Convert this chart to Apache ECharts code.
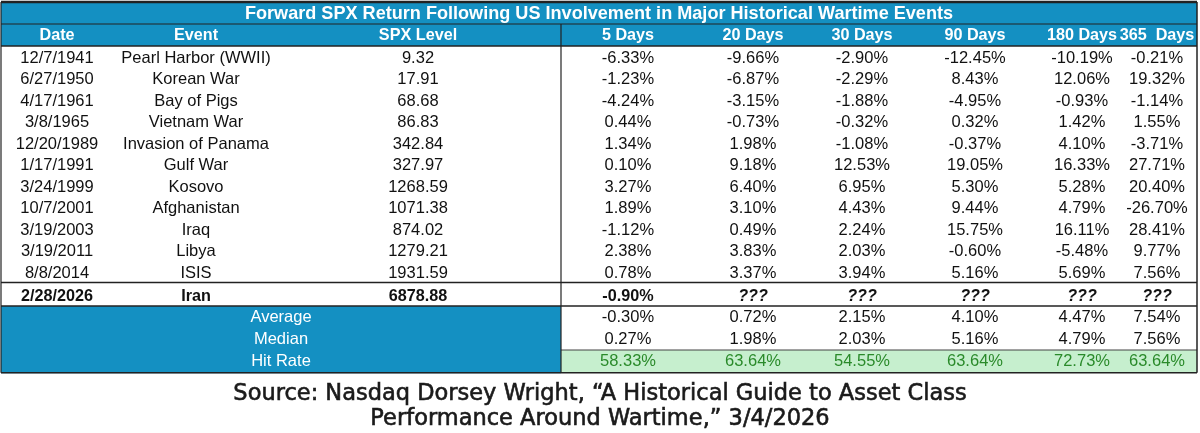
<!DOCTYPE html>
<html><head><meta charset="utf-8">
<script src="https://cdn.jsdelivr.net/npm/echarts@6/dist/echarts.min.js"></script>
<style>html,body{margin:0;padding:0;background:#fff}#c{width:1200px;height:433px}</style>
</head><body><div id="c"></div>
<script>
const titleText = 'Forward SPX Return Following US Involvement in Major Historical Wartime Events';
const headers = ['Date', 'Event', 'SPX Level', '5 Days', '20 Days', '30 Days', '90 Days', '180 Days', '365  Days'];
const dates = ['12/7/1941', '6/27/1950', '4/17/1961', '3/8/1965', '12/20/1989', '1/17/1991', '3/24/1999', '10/7/2001', '3/19/2003', '3/19/2011', '8/8/2014'];
const events = ['Pearl Harbor (WWII)', 'Korean War', 'Bay of Pigs', 'Vietnam War', 'Invasion of Panama', 'Gulf War', 'Kosovo', 'Afghanistan', 'Iraq', 'Libya', 'ISIS'];
const spxLevel = [9.32, 17.91, 68.68, 86.83, 342.84, 327.97, 1268.59, 1071.38, 874.02, 1279.21, 1931.59];
const ret5 = [-6.33, -1.23, -4.24, 0.44, 1.34, 0.10, 3.27, 1.89, -1.12, 2.38, 0.78];
const ret20 = [-9.66, -6.87, -3.15, -0.73, 1.98, 9.18, 6.40, 3.10, 0.49, 3.83, 3.37];
const ret30 = [-2.90, -2.29, -1.88, -0.32, -1.08, 12.53, 6.95, 4.43, 2.24, 2.03, 3.94];
const ret90 = [-12.45, 8.43, -4.95, 0.32, -0.37, 19.05, 5.30, 9.44, 15.75, -0.60, 5.16];
const ret180 = [-10.19, 12.06, -0.93, 1.42, 4.10, 16.33, 5.28, 4.79, 16.11, -5.48, 5.69];
const ret365 = [-0.21, 19.32, -1.14, 1.55, -3.71, 27.71, 20.40, -26.70, 28.41, 9.77, 7.56];
const currentDate = '2/28/2026';
const currentEvent = 'Iran';
const currentLevel = 6878.88;
const currentRet = [-0.90, '???', '???', '???', '???', '???'];
const summaryLabels = ['Average', 'Median', 'Hit Rate'];
const average = [-0.30, 0.72, 2.15, 4.10, 4.47, 7.54];
const median = [0.27, 1.98, 2.03, 5.16, 4.79, 7.56];
const hitRate = [58.33, 63.64, 54.55, 63.64, 72.73, 63.64];
const sourceLines = ['Source: Nasdaq Dorsey Wright, \u201cA Historical Guide to Asset Class', 'Performance Around Wartime,\u201d 3/4/2026'];

// ---- layout (not data) ----
const COL_X = [57, 196, 418, 628, 753, 862, 975, 1082, 1157];
const TABLE_L = 1, TABLE_R = 1197, DIV_X = 561, TITLE_X = 599;
const ROW_H = { title: 23, header: 22, data: 21.5, current: 23.5, summary: 22, hit: 22.7 };
const TEXT_DY = { title: 1, header: 1, data: 1.5, current: 2, summary: 0.5, hit: 0 };
const BLUE = '#1490c2', GREEN_BG = '#c6efce', GREEN_TX = '#2a8a2a', INK = '#111';
const FONT = '"Liberation Sans", Arial, sans-serif';

const pct = v => (typeof v === 'number') ? v.toFixed(2) + '%' : v;
const retCols = [ret5, ret20, ret30, ret90, ret180, ret365];

const rows = [];
rows.push({ kind: 'title', cells: [titleText] });
rows.push({ kind: 'header', cells: headers });
dates.forEach((d, i) => rows.push({ kind: 'data', cells: [d, events[i], spxLevel[i].toFixed(2)].concat(retCols.map(c => pct(c[i]))) }));
rows.push({ kind: 'current', cells: [currentDate, currentEvent, currentLevel.toFixed(2)].concat(currentRet.map(pct)) });
rows.push({ kind: 'summary', label: summaryLabels[0], cells: average.map(pct) });
rows.push({ kind: 'summary', label: summaryLabels[1], cells: median.map(pct) });
rows.push({ kind: 'hit', label: summaryLabels[2], cells: hitRate.map(pct) });

// row bands on the (pixel-like) value y axis
let acc = 0;
rows.forEach(r => { r.y0 = acc; acc += ROW_H[r.kind]; r.y1 = acc; });
const TOTAL_H = acc;

function txt(x, y, s, fill, weight, style, size) {
  return { type: 'text', style: { x: x, y: y, text: s, fill: fill, align: 'center', verticalAlign: 'middle',
    font: (style || 'normal') + ' ' + (weight || 'normal') + ' ' + (size || 16.5) + 'px ' + FONT } };
}

function renderRow(params, api) {
  const i = api.value(0);
  const row = rows[i];
  const p0 = api.coord([TABLE_L, api.value(1)]);
  const p1 = api.coord([TABLE_R, api.value(2)]);
  const xL = p0[0], xR = p1[0], y0 = p0[1], y1 = p1[1], h = y1 - y0;
  const yc = (y0 + y1) / 2 + TEXT_DY[row.kind];
  const xD = api.coord([DIV_X, 0])[0];
  const colPx = COL_X.map(x => api.coord([x, 0])[0]);
  const ch = [];
  if (row.kind === 'title') {
    ch.push({ type: 'rect', shape: { x: xL, y: y0, width: xR - xL, height: h }, style: { fill: BLUE } });
    ch.push(txt(api.coord([TITLE_X, 0])[0], yc, row.cells[0], '#fff', 'bold', 'normal', 18.1));
  } else if (row.kind === 'header') {
    ch.push({ type: 'rect', shape: { x: xL, y: y0, width: xR - xL, height: h }, style: { fill: BLUE } });
    row.cells.forEach((s, k) => ch.push(txt(colPx[k], yc, s, '#fff', 'bold', 'normal', 16.2)));
  } else if (row.kind === 'data') {
    row.cells.forEach((s, k) => ch.push(txt(colPx[k], yc, s, INK)));
  } else if (row.kind === 'current') {
    row.cells.forEach((s, k) => ch.push(txt(colPx[k], yc, s, INK, 'bold', s === '???' ? 'italic' : 'normal', 16.2)));
  } else {
    ch.push({ type: 'rect', shape: { x: xL, y: y0, width: xD - xL, height: h + 0.5 }, style: { fill: BLUE } });
    if (row.kind === 'hit') {
      ch.push({ type: 'rect', shape: { x: xD, y: y0, width: xR - xD, height: h }, style: { fill: GREEN_BG } });
    }
    ch.push(txt((xL + xD) / 2, yc, row.label, '#fff'));
    const fill = row.kind === 'hit' ? GREEN_TX : INK;
    row.cells.forEach((s, k) => ch.push(txt(colPx[k + 3], yc, s, fill)));
  }
  return { type: 'group', children: ch };
}

function renderLines(params, api) {
  const yPx = v => api.coord([0, v])[1];
  const xL = api.coord([TABLE_L, 0])[0], xR = api.coord([TABLE_R, 0])[0], xD = api.coord([DIV_X, 0])[0];
  const L = (x1, y1, x2, y2, w, col) => ({ type: 'line', shape: { x1: x1, y1: y1, x2: x2, y2: y2 }, style: { stroke: col || '#222', lineWidth: w || 1 } });
  const cur = rows.find(r => r.kind === 'current');
  const hit = rows.find(r => r.kind === 'hit');
  const yT = yPx(0) + 1, yB = yPx(TOTAL_H);
  return { type: 'group', children: [
    L(xL, yT, xR, yT, 2.5),
    L(xL, yPx(rows[1].y0), xR, yPx(rows[1].y0), 1.2),
    L(xL, yPx(rows[2].y0), xR, yPx(rows[2].y0), 1.5),
    L(xL, yPx(cur.y0), xR, yPx(cur.y0), 1.5),
    L(xL, yPx(cur.y1), xR, yPx(cur.y1), 1.5),
    L(xD, yPx(hit.y0), xR, yPx(hit.y0), 1.2, '#444'),
    L(xD, yPx(rows[1].y0), xD, yB, 1.2),
    L(xL, yT, xL, yB, 1.2),
    L(xR, yT, xR, yB, 1.5),
    L(xL, yB, xR, yB, 1.5)
  ] };
}

const chart = echarts.init(document.getElementById('c'), null, { renderer: 'canvas' });
chart.setOption({
  animation: false,
  backgroundColor: '#fff',
  grid: { left: 0, right: 0, top: 1, bottom: 433 - 1 - TOTAL_H },
  xAxis: { type: 'value', min: 0, max: 1200, show: false },
  yAxis: { type: 'value', min: 0, max: TOTAL_H, inverse: true, show: false },
  series: [
    { type: 'custom', renderItem: renderRow, data: rows.map((r, i) => [i, r.y0, r.y1]), z: 2, silent: true },
    { type: 'custom', renderItem: renderLines, data: [[0, 0, 0]], z: 5, silent: true }
  ],
  graphic: sourceLines.map((s, k) => ({
    type: 'text', x: 600, y: 394 + k * 25,
    style: { text: s, fill: '#1a1a1a', stroke: '#1a1a1a', lineWidth: 0.6,
      font: 'normal 22.5px "DejaVu Sans", sans-serif', align: 'center', verticalAlign: 'middle' }
  }))
});
</script></body></html>
